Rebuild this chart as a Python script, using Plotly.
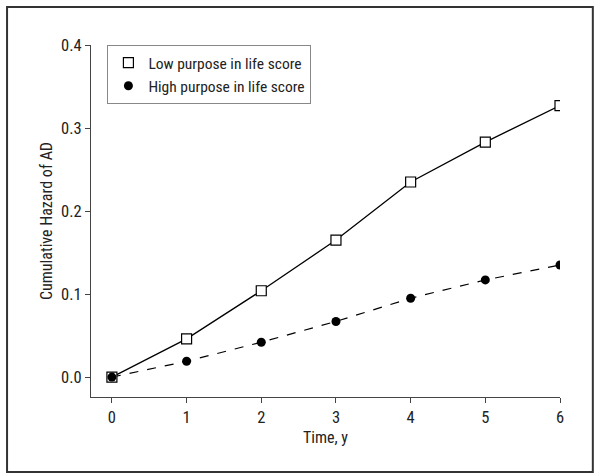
import plotly.graph_objects as go

years = [0, 1, 2, 3, 4, 5, 6]
low_purpose = [0.0, 0.046, 0.104, 0.165, 0.235, 0.283, 0.327]
high_purpose = [0.0, 0.019, 0.042, 0.067, 0.095, 0.117, 0.135]

FONT = "Liberation Sans Narrow, Arial Narrow, Roboto Condensed, sans-serif"

fig = go.Figure()
# lines (no legend entry), then markers carrying the legend
fig.add_trace(go.Scatter(x=years, y=low_purpose, mode="lines", showlegend=False,
                         line=dict(color="black", width=1.3)))
fig.add_trace(go.Scatter(x=years, y=high_purpose, mode="lines", showlegend=False,
                         line=dict(color="black", width=1.2, dash="dash")))
fig.add_trace(go.Scatter(
    x=years, y=low_purpose, name="Low purpose in life score", mode="markers",
    marker=dict(symbol="square", size=10, color="white", line=dict(color="black", width=1.2)),
))
fig.add_trace(go.Scatter(
    x=years, y=high_purpose, name="High purpose in life score", mode="markers",
    marker=dict(symbol="circle", size=9, color="black"),
))

# outer frame around the whole figure
fig.add_shape(type="rect", xref="paper", yref="paper",
              x0=-0.179, x1=1.070, y0=-0.213, y1=1.108,
              line=dict(color="#333", width=2), layer="below")

fig.update_layout(
    width=600, height=476,
    margin=dict(l=91, r=40, t=45, b=79, autoexpand=False),
    paper_bgcolor="white", plot_bgcolor="white",
    font=dict(family=FONT, size=16.5, color="#222"),
    showlegend=True,
    legend=dict(x=0.035, y=1.0, xanchor="left", yanchor="top",
                bordercolor="#888", borderwidth=1, bgcolor="white",
                font=dict(size=15.5), tracegroupgap=0, itemwidth=30,
                traceorder="normal"),
    xaxis=dict(range=[-0.28, 6.0], tickvals=years, ticks="outside", ticklen=5,
               showline=True, linecolor="#444", linewidth=1, showgrid=False,
               zeroline=False, automargin=False,
               title=dict(text="Time, y", standoff=6, font=dict(size=16))),
    yaxis=dict(range=[-0.024, 0.4], tickvals=[0.0, 0.1, 0.2, 0.3, 0.4],
               tickformat=".1f", ticks="outside", ticklen=5,
               showline=True, linecolor="#444", linewidth=1, showgrid=False,
               zeroline=False, automargin=False,
               title=dict(text="Cumulative Hazard of AD", standoff=4, font=dict(size=16))),
)

fig.write_html("out.html", config={"displayModeBar": False},
               post_script="document.body.style.margin='0';")
